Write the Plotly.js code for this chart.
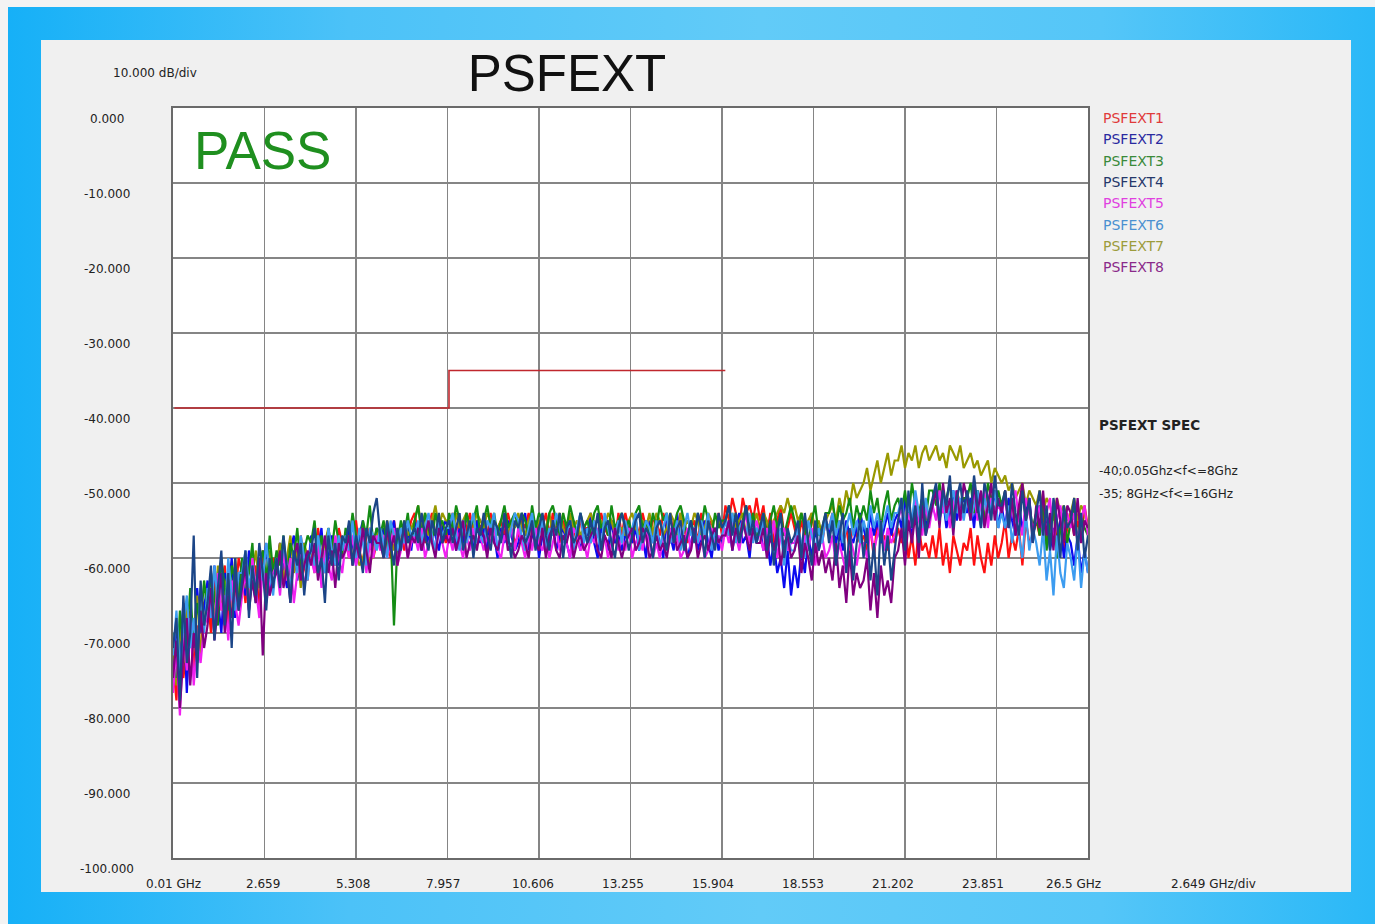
<!DOCTYPE html>
<html>
<head>
<meta charset="utf-8">
<script src="https://cdn.plot.ly/plotly-3.0.1.min.js"></script>
<style>
html,body{margin:0;padding:0;background:#f3f3f3;width:1375px;height:924px;overflow:hidden;}
#blue{position:absolute;left:8px;top:7px;width:1367px;height:917px;background:linear-gradient(to right,#16b0f7 0%,#4cc2f8 25%,#62cbf8 55%,#55c6f8 80%,#2ab8f7 100%);}
#panel{position:absolute;left:41px;top:40px;width:1310px;height:852px;background:#f0f0f0;}
#chart{position:absolute;left:0;top:0;width:1375px;height:924px;}
</style>
</head>
<body>
<div id="blue"></div>
<div id="panel"></div>
<div id="chart"></div>
<script>
// ---- data ----
const fStart = 0.01, fStop = 26.5, nPts = 266;
const seriesNames = ['PSFEXT1','PSFEXT2','PSFEXT3','PSFEXT4','PSFEXT5','PSFEXT6','PSFEXT7','PSFEXT8'];
const xTickVals = [0.01,2.659,5.308,7.957,10.606,13.255,15.904,18.553,21.202,23.851,26.5];
const xTickLabels = ['0.01 GHz','2.659','5.308','7.957','10.606','13.255','15.904','18.553','21.202','23.851','26.5 GHz'];
const yTickVals = [0,-10,-20,-30,-40,-50,-60,-70,-80,-90,-100];
const yTickLabels = ['0.000','-10.000','-20.000','-30.000','-40.000','-50.000','-60.000','-70.000','-80.000','-90.000','-100.000'];
const specF = [0.05, 8, 8, 16];
const specDb = [-40, -40, -35, -35];

const psfext1 = [
-74,-79,-70,-76,-72,-67,-75,-69,-73,-66,
-65,-70,-62,-68,-64,-61,-69,-63,-66,-60,
-62,-66,-60,-64,-61,-67,-59,-63,-65,-60,
-61,-58,-63,-60,-64,-59,-62,-57,-61,-63,
-58,-61,-56,-60,-62,-57,-59,-61,-56,-58,
-57,-60,-58,-55,-59,-61,-57,-56,-60,-58,
-56,-59,-57,-60,-55,-58,-56,-59,-57,-55,
-54,-57,-55,-58,-56,-54,-57,-55,-56,-58,
-56,-54,-57,-55,-58,-56,-54,-57,-55,-56,
-55,-57,-54,-58,-56,-55,-57,-54,-56,-58,
-57,-55,-56,-54,-57,-58,-55,-56,-54,-57,
-54,-56,-58,-55,-57,-54,-56,-58,-55,-56,
-56,-58,-55,-57,-54,-56,-57,-55,-58,-54,
-57,-54,-56,-58,-55,-57,-54,-56,-57,-55,
-55,-57,-54,-56,-58,-55,-57,-54,-56,-58,
-56,-55,-58,-54,-57,-56,-55,-58,-54,-57,
-53,-55,-52,-54,-56,-52,-54,-53,-55,-52,
-55,-53,-57,-54,-58,-55,-53,-57,-56,-54,
-56,-58,-55,-57,-59,-54,-57,-56,-58,-55,
-56,-54,-57,-55,-58,-56,-59,-55,-57,-58,
-57,-59,-56,-60,-55,-58,-57,-59,-56,-58,
-56,-58,-55,-60,-57,-61,-56,-59,-58,-60,
-57,-60,-56,-61,-58,-62,-57,-59,-61,-58,
-59,-56,-61,-57,-60,-62,-58,-61,-57,-60,
-58,-55,-60,-57,-59,-56,-61,-55,-58,-57,
-55,-57,-54,-58,-56,-53,-57,-55,-59,-56,
-54,-57,-55,-58,-53,-56];

const psfext2 = [
-75,-69,-73,-66,-78,-68,-71,-64,-70,-67,
-63,-68,-61,-66,-70,-62,-65,-60,-68,-63,
-61,-65,-59,-63,-66,-60,-62,-58,-64,-61,
-62,-58,-61,-64,-59,-57,-63,-60,-58,-62,
-57,-61,-59,-56,-62,-60,-57,-59,-61,-58,
-59,-56,-58,-61,-57,-55,-60,-57,-59,-56,
-58,-56,-59,-57,-55,-60,-57,-58,-56,-59,
-55,-57,-59,-56,-58,-55,-57,-59,-56,-55,
-57,-55,-59,-56,-58,-54,-57,-59,-55,-58,
-56,-59,-55,-57,-60,-56,-58,-55,-57,-59,
-58,-56,-54,-59,-57,-55,-60,-57,-56,-58,
-55,-59,-57,-56,-58,-60,-55,-57,-59,-56,
-57,-54,-58,-60,-56,-57,-59,-55,-58,-57,
-59,-57,-55,-58,-56,-59,-57,-60,-55,-58,
-56,-58,-60,-55,-57,-59,-54,-58,-57,-60,
-58,-56,-59,-57,-55,-58,-60,-56,-59,-57,
-57,-55,-59,-56,-54,-58,-57,-60,-55,-58,
-56,-59,-57,-61,-58,-62,-60,-64,-59,-65,
-61,-64,-59,-62,-57,-60,-56,-59,-57,-55,
-57,-55,-58,-56,-59,-55,-57,-58,-56,-54,
-56,-58,-54,-57,-55,-58,-56,-54,-57,-55,
-54,-56,-52,-55,-57,-53,-55,-52,-56,-54,
-53,-51,-55,-52,-56,-54,-51,-55,-53,-52,
-54,-52,-56,-51,-53,-55,-52,-54,-51,-56,
-53,-56,-52,-55,-57,-53,-56,-54,-52,-57,
-55,-53,-57,-54,-59,-56,-58,-55,-60,-57,
-58,-61,-57,-62,-59,-62];

const psfext3 = [
-70,-76,-67,-73,-71,-64,-72,-66,-69,-63,
-67,-62,-65,-69,-60,-64,-67,-61,-63,-66,
-60,-64,-62,-58,-66,-61,-59,-63,-57,-62,
-59,-61,-57,-63,-58,-60,-56,-62,-59,-57,
-58,-55,-60,-57,-61,-56,-59,-55,-58,-60,
-56,-58,-54,-57,-59,-55,-57,-53,-58,-56,
-57,-55,-59,-56,-69,-58,-55,-57,-54,-58,
-55,-53,-57,-54,-56,-58,-54,-56,-55,-57,
-54,-56,-53,-55,-57,-54,-56,-55,-53,-57,
-55,-53,-56,-54,-57,-55,-53,-56,-55,-54,
-56,-54,-55,-57,-53,-56,-54,-55,-57,-54,
-53,-55,-57,-54,-56,-53,-55,-57,-54,-56,
-55,-57,-54,-53,-56,-55,-57,-53,-56,-55,
-54,-56,-55,-57,-54,-53,-56,-55,-57,-54,
-56,-53,-55,-54,-57,-56,-54,-53,-55,-57,
-55,-57,-54,-56,-53,-55,-57,-54,-56,-55,
-55,-53,-56,-54,-57,-55,-53,-56,-54,-57,
-56,-54,-57,-55,-53,-56,-54,-57,-55,-53,
-55,-57,-54,-56,-58,-55,-53,-57,-56,-54,
-54,-52,-56,-53,-55,-54,-52,-56,-53,-55,
-53,-55,-51,-54,-52,-56,-53,-51,-55,-53,
-52,-54,-51,-55,-50,-53,-54,-52,-55,-51,
-51,-53,-50,-54,-52,-50,-55,-51,-53,-52,
-52,-50,-54,-51,-53,-55,-50,-52,-54,-51,
-53,-51,-55,-52,-56,-54,-51,-55,-53,-56,
-54,-57,-52,-59,-55,-53,-60,-56,-54,-58,
-55,-53,-58,-54,-56,-57];

const psfext4 = [
-72,-68,-79,-65,-74,-70,-57,-76,-63,-69,
-66,-61,-71,-64,-59,-69,-62,-72,-60,-67,
-63,-59,-68,-61,-65,-58,-62,-67,-60,-64,
-60,-64,-57,-62,-66,-59,-61,-58,-65,-60,
-59,-56,-62,-60,-66,-57,-61,-58,-63,-57,
-58,-55,-61,-57,-59,-62,-56,-58,-54,-52,
-57,-60,-55,-58,-61,-56,-59,-55,-58,-57,
-56,-58,-54,-57,-59,-55,-57,-54,-58,-56,
-55,-58,-56,-54,-59,-57,-55,-60,-56,-57,
-54,-57,-59,-55,-56,-58,-54,-57,-60,-55,
-56,-54,-58,-57,-55,-59,-56,-54,-57,-59,
-55,-57,-54,-60,-56,-55,-58,-57,-54,-56,
-58,-55,-57,-54,-59,-56,-55,-58,-60,-56,
-54,-56,-59,-57,-55,-54,-58,-56,-57,-60,
-56,-55,-57,-59,-54,-58,-56,-55,-59,-57,
-55,-58,-54,-56,-60,-55,-57,-59,-54,-56,
-55,-53,-57,-54,-58,-56,-53,-57,-55,-58,
-56,-54,-59,-55,-61,-57,-54,-60,-56,-58,
-57,-55,-60,-54,-58,-61,-55,-59,-56,-54,
-58,-55,-61,-57,-54,-62,-56,-63,-58,-55,
-60,-56,-63,-58,-65,-55,-61,-57,-63,-59,
-55,-52,-59,-51,-56,-53,-58,-50,-57,-54,
-52,-50,-55,-51,-53,-49,-56,-52,-50,-54,
-51,-54,-49,-53,-56,-50,-52,-55,-49,-53,
-53,-51,-56,-50,-54,-57,-51,-55,-52,-58,
-54,-51,-57,-53,-59,-52,-55,-60,-53,-56,
-55,-52,-59,-54,-60,-57];

const psfext5 = [
-78,-72,-81,-70,-75,-68,-77,-71,-74,-69,
-68,-64,-70,-62,-67,-65,-71,-63,-66,-69,
-65,-62,-67,-60,-64,-68,-61,-66,-63,-62,
-61,-65,-59,-63,-60,-66,-62,-58,-64,-61,
-60,-62,-58,-64,-59,-61,-63,-57,-60,-62,
-58,-60,-57,-61,-59,-56,-62,-58,-60,-57,
-59,-57,-60,-58,-56,-61,-59,-57,-60,-58,
-57,-59,-56,-60,-58,-57,-59,-56,-58,-60,
-57,-59,-56,-58,-60,-57,-59,-56,-58,-57,
-59,-57,-58,-56,-59,-60,-57,-58,-56,-59,
-56,-58,-60,-57,-59,-56,-58,-59,-57,-60,
-58,-56,-59,-57,-58,-60,-56,-57,-59,-58,
-60,-57,-58,-56,-59,-57,-60,-58,-56,-59,
-57,-59,-56,-60,-58,-57,-59,-56,-58,-60,
-58,-60,-57,-59,-56,-58,-57,-60,-59,-56,
-59,-56,-58,-57,-60,-59,-56,-58,-57,-59,
-56,-58,-55,-57,-59,-56,-54,-58,-57,-55,
-57,-59,-56,-58,-55,-60,-57,-56,-59,-58,
-58,-56,-60,-57,-59,-56,-61,-58,-57,-60,
-59,-57,-61,-58,-60,-62,-57,-59,-61,-58,
-58,-60,-56,-59,-57,-55,-59,-56,-58,-57,
-55,-53,-57,-54,-56,-52,-55,-57,-53,-56,
-53,-55,-51,-54,-52,-56,-53,-51,-55,-54,
-52,-54,-51,-55,-53,-51,-56,-52,-54,-53,
-54,-52,-56,-53,-51,-55,-57,-52,-54,-56,
-55,-53,-57,-54,-52,-58,-55,-53,-57,-54,
-56,-54,-58,-55,-53,-57];

const psfext6 = [
-73,-67,-75,-69,-65,-72,-68,-74,-64,-70,
-64,-68,-61,-66,-63,-69,-60,-65,-67,-62,
-62,-59,-64,-61,-66,-60,-63,-58,-62,-65,
-60,-63,-58,-61,-64,-59,-62,-57,-60,-63,
-58,-61,-57,-60,-62,-56,-59,-61,-57,-59,
-57,-59,-55,-60,-56,-58,-61,-56,-57,-59,
-56,-58,-60,-55,-57,-59,-56,-58,-55,-57,
-57,-55,-58,-56,-54,-57,-59,-55,-57,-56,
-56,-54,-57,-59,-55,-58,-56,-54,-58,-57,
-58,-55,-56,-54,-59,-57,-55,-58,-56,-54,
-55,-57,-59,-56,-54,-58,-57,-55,-59,-56,
-57,-54,-56,-58,-57,-55,-59,-56,-54,-58,
-56,-58,-55,-57,-59,-54,-56,-58,-57,-55,
-58,-55,-57,-56,-54,-59,-57,-55,-56,-58,
-55,-59,-56,-54,-58,-57,-55,-59,-56,-54,
-57,-56,-58,-55,-57,-54,-59,-56,-58,-57,
-55,-57,-54,-58,-56,-55,-57,-54,-58,-56,
-57,-55,-59,-56,-60,-58,-56,-61,-57,-59,
-59,-56,-58,-60,-55,-57,-59,-56,-58,-55,
-56,-54,-57,-55,-58,-56,-54,-57,-55,-58,
-55,-57,-53,-56,-54,-57,-55,-53,-56,-54,
-54,-52,-56,-53,-55,-51,-54,-56,-52,-55,
-53,-51,-54,-52,-55,-53,-51,-54,-52,-55,
-52,-55,-53,-51,-56,-52,-54,-53,-51,-56,
-54,-56,-53,-58,-55,-57,-60,-54,-59,-56,
-58,-61,-56,-63,-59,-65,-57,-62,-64,-58,
-60,-63,-57,-64,-59,-62];

const psfext7 = [
-71,-77,-69,-74,-66,-72,-70,-65,-73,-68,
-66,-63,-69,-61,-67,-64,-62,-68,-60,-65,
-63,-60,-66,-62,-59,-64,-61,-65,-59,-62,
-61,-58,-63,-60,-57,-62,-59,-64,-58,-60,
-59,-62,-57,-60,-58,-56,-61,-59,-57,-60,
-58,-57,-60,-59,-61,-60,-58,-61,-59,-57,
-56,-58,-55,-57,-59,-56,-58,-55,-57,-56,
-55,-53,-56,-54,-57,-55,-53,-56,-54,-55,
-55,-57,-54,-56,-55,-54,-57,-56,-54,-55,
-56,-54,-55,-57,-56,-55,-54,-57,-55,-56,
-54,-56,-57,-55,-54,-56,-55,-57,-56,-54,
-57,-55,-54,-56,-57,-54,-56,-55,-57,-56,
-55,-54,-56,-57,-55,-56,-54,-55,-57,-56,
-56,-57,-55,-54,-56,-57,-55,-56,-54,-57,
-54,-55,-57,-56,-54,-55,-57,-54,-56,-55,
-56,-54,-55,-57,-56,-54,-55,-57,-55,-56,
-55,-57,-54,-56,-55,-54,-57,-55,-56,-54,
-56,-54,-55,-57,-55,-54,-53,-54,-52,-54,
-53,-55,-54,-56,-55,-54,-56,-55,-57,-55,
-54,-53,-55,-52,-54,-51,-53,-50,-52,-51,
-50,-48,-51,-49,-47,-50,-48,-46,-49,-47,
-47,-45,-48,-46,-47,-45,-48,-46,-45,-47,
-46,-45,-47,-46,-48,-45,-46,-47,-45,-48,
-47,-46,-48,-47,-49,-48,-47,-50,-48,-49,
-50,-49,-51,-50,-52,-51,-50,-53,-51,-52,
-53,-51,-54,-52,-53,-55,-52,-54,-53,-55,
-54,-52,-55,-53,-54,-56];

const psfext8 = [
-76,-71,-80,-73,-68,-77,-70,-74,-67,-72,
-69,-64,-71,-66,-62,-70,-65,-68,-63,-67,
-64,-61,-67,-63,-66,-60,-73,-62,-65,-63,
-62,-59,-64,-61,-66,-60,-58,-63,-61,-59,
-61,-58,-63,-60,-57,-62,-59,-64,-58,-60,
-59,-57,-61,-58,-60,-56,-59,-62,-57,-58,
-58,-60,-56,-59,-57,-61,-58,-56,-60,-57,
-58,-56,-59,-57,-55,-58,-60,-56,-58,-57,
-58,-56,-59,-57,-55,-60,-58,-57,-59,-56,
-57,-60,-56,-58,-59,-57,-55,-59,-58,-60,
-59,-57,-58,-60,-56,-58,-59,-56,-60,-57,
-56,-59,-60,-57,-58,-56,-60,-58,-57,-59,
-58,-57,-56,-59,-60,-57,-58,-60,-56,-58,
-60,-58,-57,-56,-59,-58,-56,-57,-60,-59,
-57,-59,-58,-60,-57,-56,-59,-58,-57,-60,
-59,-56,-60,-58,-57,-59,-57,-56,-58,-57,
-57,-55,-59,-56,-58,-55,-57,-59,-56,-58,
-58,-56,-60,-57,-59,-56,-61,-58,-57,-60,
-59,-57,-62,-58,-60,-63,-58,-61,-59,-62,
-60,-63,-58,-64,-61,-66,-59,-65,-62,-64,
-63,-60,-67,-62,-68,-61,-65,-63,-66,-60,
-59,-56,-61,-55,-58,-54,-60,-53,-57,-55,
-53,-51,-56,-50,-54,-52,-57,-51,-55,-50,
-52,-55,-50,-54,-51,-56,-53,-50,-55,-52,
-54,-51,-56,-52,-57,-53,-50,-55,-52,-58,
-53,-56,-51,-57,-54,-59,-52,-55,-58,-53,
-54,-57,-52,-58,-55,-56];

const seriesColors = {
  PSFEXT1:'#ff1010', PSFEXT2:'#0a0af0', PSFEXT3:'#148c14', PSFEXT4:'#1b4587',
  PSFEXT5:'#f020f0', PSFEXT6:'#3c9cf0', PSFEXT7:'#999900', PSFEXT8:'#800080'
};
const legendColors = ['#e03a3a','#2a2aa0','#3a8a3a','#26386a','#e040e0','#4a90d0','#9c9c3c','#8a2a8a'];

// frequency sweep grid
const freq = [];
for (let i = 0; i < nPts; i++) freq.push(fStart + i * (fStop - fStart) / (nPts - 1));

const dataBySeries = {PSFEXT1:psfext1,PSFEXT2:psfext2,PSFEXT3:psfext3,PSFEXT4:psfext4,
  PSFEXT5:psfext5,PSFEXT6:psfext6,PSFEXT7:psfext7,PSFEXT8:psfext8};
const drawOrder = ['PSFEXT1','PSFEXT2','PSFEXT7','PSFEXT3','PSFEXT5','PSFEXT6','PSFEXT8','PSFEXT4'];

const traces = drawOrder.map(n => ({
  type:'scatter', mode:'lines', name:n, x:freq, y:dataBySeries[n],
  line:{color:seriesColors[n], width:2.2}, hoverinfo:'skip'
}));
traces.push({type:'scatter', mode:'lines', name:'SPEC', x:specF, y:specDb,
  line:{color:'#c0272d', width:1.6}, hoverinfo:'skip'});

const smallFont = {family:'DejaVu Sans, Arial, sans-serif', size:12, color:'#222'};
const ann = [];
xTickVals.forEach((v,i) => ann.push({xref:'x', yref:'paper', x:v, y:0, yshift:-26, xshift:-1.5*i,
  text:xTickLabels[i], showarrow:false, xanchor:'center', yanchor:'middle', font:smallFont}));
yTickVals.forEach((v,i) => ann.push({xref:'paper', yref:'y', x:-0.0721, y:v, yshift:-11,
  text:yTickLabels[i], showarrow:false, xanchor:'center', yanchor:'middle', font:smallFont}));
ann.push({xref:'paper', yref:'paper', x:(1213-173)/915, y:0, yshift:-26, text:'2.649 GHz/div',
  showarrow:false, xanchor:'center', yanchor:'middle', font:smallFont});
ann.push({xref:'paper', yref:'paper', x:(155-173)/915, y:(858-73)/750, text:'10.000 dB/div',
  showarrow:false, xanchor:'center', yanchor:'middle', font:smallFont});
ann.push({xref:'paper', yref:'paper', x:(192-173)/915, y:(858-150)/750, text:'PASS',
  showarrow:false, xanchor:'left', yanchor:'middle',
  font:{family:'Liberation Sans, Arial, sans-serif', size:53, color:'#1f8f1f'}});
seriesNames.forEach((n,i) => ann.push({xref:'paper', yref:'paper', x:(1101-173)/915,
  y:(858-(118+21.3*i))/750, text:n, showarrow:false, xanchor:'left', yanchor:'middle',
  font:{family:'DejaVu Sans, Arial, sans-serif', size:14, color:legendColors[i]}}));
ann.push({xref:'paper', yref:'paper', x:(1097-173)/915, y:(858-425)/750, text:'<b>PSFEXT SPEC</b>',
  showarrow:false, xanchor:'left', yanchor:'middle',
  font:{family:'DejaVu Sans, Arial, sans-serif', size:13.5, color:'#222'}});
ann.push({xref:'paper', yref:'paper', x:(1097-173)/915, y:(858-471)/750, text:'-40;0.05Ghz&lt;f&lt;=8Ghz',
  showarrow:false, xanchor:'left', yanchor:'middle',
  font:{family:'DejaVu Sans, Arial, sans-serif', size:12, color:'#222'}});
ann.push({xref:'paper', yref:'paper', x:(1097-173)/915, y:(858-494)/750, text:'-35; 8GHz&lt;f&lt;=16GHz',
  showarrow:false, xanchor:'left', yanchor:'middle',
  font:{family:'DejaVu Sans, Arial, sans-serif', size:12, color:'#222'}});

const axisCommon = {showgrid:true, gridcolor:'#858585', gridwidth:1.5, zeroline:false,
  showline:true, mirror:true, linecolor:'#6a6a6a', linewidth:2, ticks:'', showticklabels:false, fixedrange:true};

const layout = {
  width:1375, height:924,
  margin:{l:173, r:287, t:108, b:66, pad:0},
  paper_bgcolor:'rgba(0,0,0,0)', plot_bgcolor:'#ffffff',
  showlegend:false,
  title:{text:'PSFEXT', x:567/1375, xanchor:'center', y:1-73/924, yanchor:'middle',
    font:{family:'Liberation Sans, Arial, sans-serif', size:51, color:'#111'}},
  xaxis:Object.assign({}, axisCommon, {range:[fStart, fStop], tickvals:xTickVals}),
  yaxis:Object.assign({}, axisCommon, {range:[-100, 0], tickvals:yTickVals}),
  annotations:ann
};

Plotly.newPlot('chart', traces, layout, {displayModeBar:false, staticPlot:true});
</script>
</body>
</html>
